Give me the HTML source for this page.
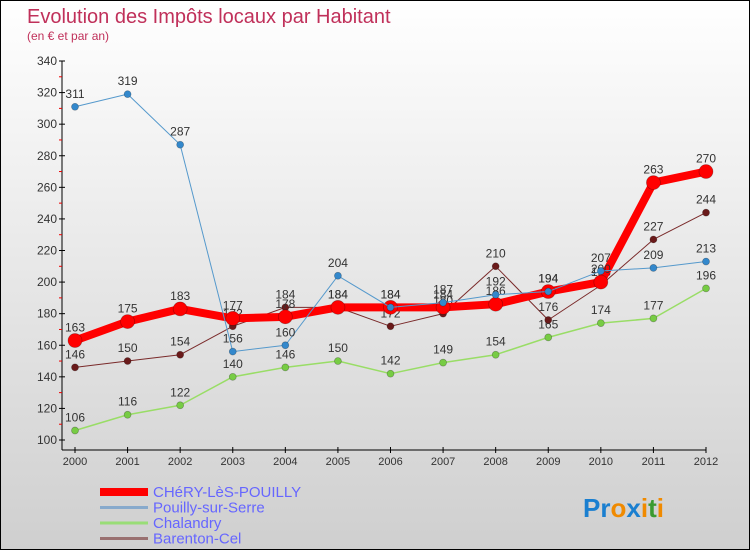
<!DOCTYPE html>
<html><head><meta charset="utf-8"><style>
body{margin:0}
#wrap{width:750px;height:550px;position:relative;overflow:hidden;font-family:"Liberation Sans",sans-serif;}
</style></head><body>
<div id="wrap">
<svg id="svg" width="750" height="550" xmlns="http://www.w3.org/2000/svg">
<defs><linearGradient id="bg" x1="0" y1="0" x2="0" y2="1"><stop offset="0" stop-color="#ffffff"/><stop offset="1" stop-color="#cfcfcf"/></linearGradient></defs>
<rect x="0.5" y="0.5" width="749" height="549" fill="url(#bg)" stroke="#000"/>
<text x="27" y="23" font-size="20" fill="#c0305a">Evolution des Impôts locaux par Habitant</text>
<text x="27" y="40" font-size="12" fill="#c0305a">(en € et par an)</text>
<g id="axes"></g><g id="series"></g><g id="legend"></g>
<text x="583" y="517" font-size="26" font-weight="bold"><tspan fill="#1a7fd0">Pr</tspan><tspan fill="#f08a00">o</tspan><tspan fill="#1a7fd0">x</tspan><tspan fill="#f08a00">i</tspan><tspan fill="#3a9a30">t</tspan><tspan fill="#f08a00">i</tspan></text>
</svg>
</div>
<script>
const years=[2000,2001,2002,2003,2004,2005,2006,2007,2008,2009,2010,2011,2012];
const yTicks=[100,120,140,160,180,200,220,240,260,280,300,320,340];
const chery=[163,175,183,177,178,184,184,184,186,194,200,263,270];
const pouilly=[311,319,287,156,160,204,184,187,192,194,207,209,213];
const chalandry=[106,116,122,140,146,150,142,149,154,165,174,177,196];
const barenton=[146,150,154,172,184,184,172,180,210,176,198,227,244];
const NS="http://www.w3.org/2000/svg";
const X=i=>75+i*(706-75)/(years.length-1);
const Y=v=>440-(v-100)*(440-61)/240;
function mk(tag,attrs,parent){const e=document.createElementNS(NS,tag);for(const k in attrs)e.setAttribute(k,attrs[k]);parent.appendChild(e);return e;}
const ax=document.getElementById('axes');
let l=mk('line',{x1:62,y1:61,x2:62,y2:450,stroke:'#000'},ax);


l=mk('line',{x1:62,y1:450,x2:706,y2:450,stroke:'#000'},ax);


yTicks.forEach((v,i)=>{
 mk('line',{x1:59,y1:Y(v),x2:65,y2:Y(v),stroke:'#000'},ax);
 if(i<yTicks.length-1) mk('line',{x1:59,y1:Y(v+10),x2:62,y2:Y(v+10),stroke:'#e00'},ax);
 const t=mk('text',{x:57,y:Y(v)+4,'font-size':12,fill:'#333','text-anchor':'end'},ax);t.textContent=v;
 
 
});
years.forEach((yr,i)=>{
 mk('line',{x1:X(i),y1:447,x2:X(i),y2:453,stroke:'#000'},ax);
 const t=mk('text',{x:X(i),y:465,'font-size':11,fill:'#333','text-anchor':'middle'},ax);t.textContent=yr;
 
 
});
const sg=document.getElementById('series');
function series(data,color,w,r,name,ptColor){
 const g=mk('g',{},sg);
 
 
 mk('polyline',{points:data.map((v,i)=>X(i)+','+Y(v)).join(' '),fill:'none',stroke:color,'stroke-width':w,'stroke-linejoin':'round'},g);
 data.forEach((v,i)=>{
  const c=mk('circle',{cx:X(i),cy:Y(v),r:r,fill:ptColor,stroke:'rgba(0,0,0,0.3)','stroke-width':0.7},g);
  
  
  const t=mk('text',{x:X(i),y:Y(v)-9,'font-size':12,fill:'#333','text-anchor':'middle'},g);t.textContent=v;
  
  
 });
}
series(chalandry,'#99dd66',1.5,3.5,'chalandry','#77cc44');
series(barenton,'#7a2a2a',1,3.5,'barenton-cel','#6a1a1a');
series(chery,'#ff0000',8,7,'chery-les-pouilly','#ff0000');
series(pouilly,'#5599cc',1,3.5,'pouilly-sur-serre','#3388cc');
const lg=document.getElementById('legend');
const leg=[['CHéRY-LèS-POUILLY','#ff0000',8],['Pouilly-sur-Serre','#88aacc',3],['Chalandry','#99dd77',3],['Barenton-Cel','#997070',3]];
leg.forEach((e,i)=>{
 const y=492+i*15.5;
 const g=mk('g',{},lg);
 
 
 mk('line',{x1:100,y1:y,x2:148,y2:y,stroke:e[1],'stroke-width':e[2]},g);
 const t=mk('text',{x:153,y:y+5,'font-size':15,fill:'#6666ff'},g);t.textContent=e[0];
});
</script>
</body></html>
